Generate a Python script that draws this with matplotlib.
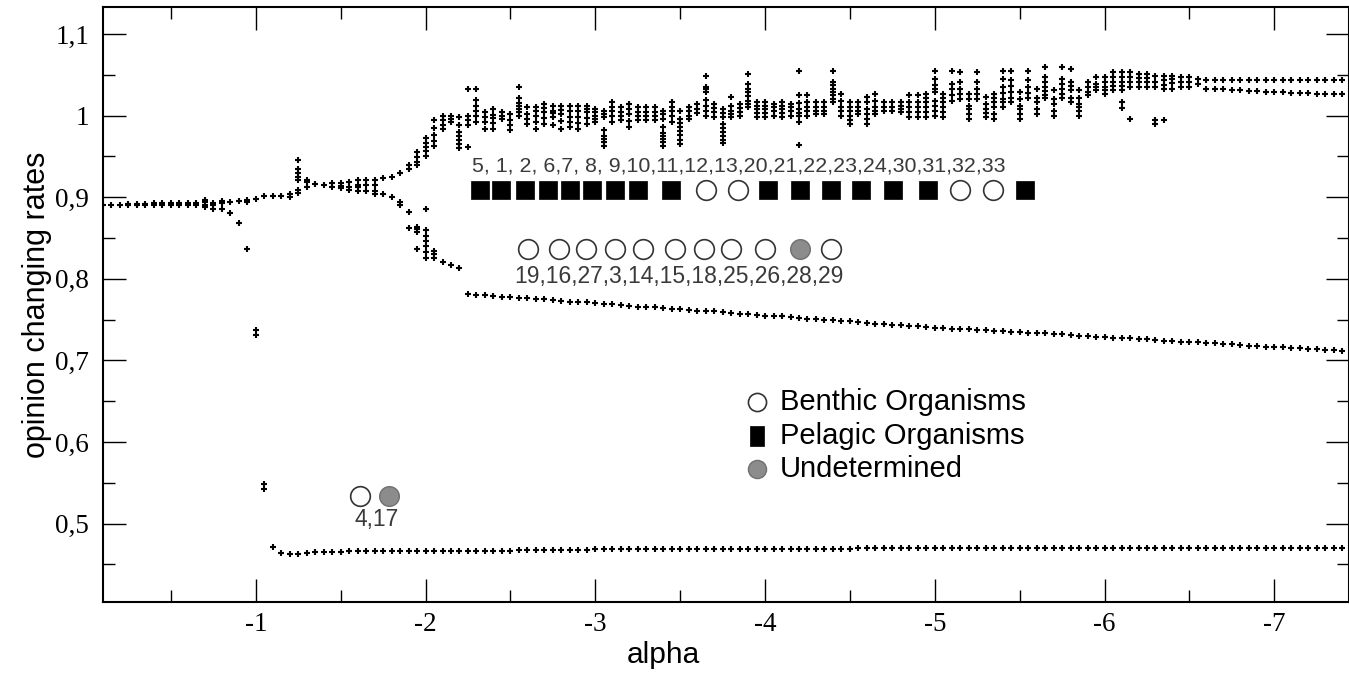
import numpy as np
import matplotlib
matplotlib.use("Agg")
import matplotlib.pyplot as plt
from matplotlib.ticker import FixedLocator, FuncFormatter

STEP = 0.05  # alpha step of the sweep

# single cluster before the split, one list of rates per alpha (-0.1 ... -1.7)
plateau_start = -0.1
plateau_rates = [
    [0.891], [0.891], [0.891], [0.891, 0.892], [0.891, 0.892],
    [0.891, 0.892], [0.891, 0.893], [0.891, 0.893], [0.891, 0.893], [0.891, 0.893],
    [0.891, 0.893], [0.891, 0.893], [0.888, 0.891, 0.894, 0.897], [0.886, 0.890, 0.893],
    [0.885, 0.893, 0.895], [0.880, 0.894], [0.868, 0.895], [0.836, 0.894, 0.896],
    [0.898], [0.902], [0.902], [0.901], [0.900, 0.904],
    [0.905, 0.909, 0.921, 0.925, 0.930, 0.934, 0.946],
    [0.913, 0.918, 0.921], [0.916], [0.915], [0.913, 0.917], [0.911, 0.914, 0.917],
    [0.909, 0.913, 0.918], [0.908, 0.912, 0.915, 0.921], [0.908, 0.915, 0.921],
    [0.915, 0.921],
]

# isolated points where the lowest species falls off
drop_alpha = [-1.0, -1.0, -1.05, -1.05]
drop_rates = [0.737, 0.731, 0.549, 0.543]

# lowest branch (-1.1 ... -7.4)
low_start = -1.1
low_rates = [
    0.471, 0.464, 0.463, 0.463, 0.464, 0.465, 0.465, 0.465, 0.465,
    0.466, 0.466, 0.466, 0.466, 0.466, 0.466, 0.466, 0.466, 0.466, 0.466,
    0.467, 0.467, 0.467, 0.467, 0.467, 0.467, 0.467, 0.467, 0.467, 0.467,
    0.468, 0.468, 0.468, 0.468, 0.468, 0.468, 0.468, 0.468, 0.468,
    0.469, 0.469, 0.469, 0.469, 0.469, 0.469, 0.469, 0.469, 0.469, 0.469,
    0.469, 0.469, 0.469, 0.469, 0.469, 0.469, 0.469, 0.469, 0.469, 0.469,
    0.469, 0.469, 0.469, 0.469, 0.469, 0.469, 0.469, 0.469, 0.469, 0.469, 0.469,
    0.470, 0.470, 0.470, 0.470, 0.470, 0.470, 0.470, 0.470, 0.470, 0.470,
    0.470, 0.470, 0.470, 0.470, 0.470, 0.470, 0.470, 0.470, 0.470, 0.470,
    0.470, 0.470, 0.470, 0.470, 0.470, 0.470, 0.470, 0.470, 0.470, 0.470,
    0.470, 0.470, 0.470, 0.470, 0.470, 0.470, 0.470, 0.470, 0.470, 0.470,
    0.470, 0.470, 0.470, 0.470, 0.470, 0.470, 0.470, 0.470, 0.470, 0.470,
    0.470, 0.470, 0.470, 0.470, 0.470, 0.470, 0.470, 0.470,
]

# middle branch, spread part (-1.7 ... -2.2)
split_start = -1.7
split_rates = [
    [0.904, 0.907], [0.904], [0.900], [0.890, 0.894], [0.862, 0.882],
    [0.837, 0.857, 0.861, 0.864], [0.825, 0.833, 0.840, 0.846, 0.852, 0.860, 0.885],
    [0.826, 0.830, 0.834], [0.821], [0.817], [0.813],
]

# middle branch, single line (-2.25 ... -7.4)
mid_start = -2.25
mid_rates = [
    0.781, 0.780, 0.780, 0.779, 0.778, 0.778, 0.777, 0.776, 0.775, 0.775,
    0.774, 0.773, 0.772, 0.772, 0.771, 0.770, 0.769, 0.769, 0.768, 0.767,
    0.766, 0.766, 0.765, 0.764, 0.763, 0.763, 0.762, 0.761, 0.760, 0.760,
    0.759, 0.758, 0.757, 0.757, 0.756, 0.755, 0.754, 0.754, 0.753, 0.752,
    0.751, 0.751, 0.750, 0.749, 0.748, 0.748, 0.747, 0.746, 0.745, 0.744,
    0.743, 0.743, 0.742, 0.742, 0.741, 0.740, 0.740, 0.739, 0.739, 0.738,
    0.737, 0.737, 0.736, 0.736, 0.735, 0.735, 0.734, 0.733, 0.733, 0.732,
    0.732, 0.731, 0.730, 0.730, 0.729, 0.729, 0.728, 0.727, 0.727, 0.726,
    0.726, 0.725, 0.724, 0.724, 0.723, 0.723, 0.722, 0.721, 0.721, 0.720,
    0.720, 0.719, 0.718, 0.718, 0.717, 0.717, 0.716, 0.715, 0.715, 0.714,
    0.714, 0.713, 0.713, 0.712,
]

# upper band (-1.75 ... -6.6)
band_start = -1.75
band_rates = [
    [0.923], [0.925], [0.930], [0.935, 0.940],                                   # -1.75 .. -1.9
    [0.939, 0.943, 0.949, 0.955], [0.951, 0.956, 0.961, 0.966, 0.972],            # -1.95, -2.0
    [0.963, 0.969, 0.976, 0.985, 0.994], [0.984, 0.989, 0.994, 0.999],            # -2.05, -2.1
    [0.992, 0.996, 1.000], [0.960, 0.965, 0.970, 0.975, 0.980, 0.988, 0.998],     # -2.15, -2.2
    [0.961, 0.988, 0.994, 1.000, 1.033], [0.992, 0.999, 1.005, 1.012, 1.019, 1.032],
    [0.984, 0.992, 0.998, 1.004], [0.984, 0.991, 0.997, 1.001, 1.008],            # -2.35, -2.4
    [0.996, 1.000, 1.004], [0.982, 0.989, 0.994, 1.002],                          # -2.45, -2.5
    [1.000, 1.004, 1.008, 1.012, 1.015, 1.022, 1.035], [0.990, 0.996, 1.002, 1.010],
    [0.984, 0.992, 1.000, 1.005, 1.010], [0.990, 0.997, 1.004, 1.009, 1.014],     # -2.65, -2.7
    [0.988, 0.998, 1.003, 1.006, 1.012], [0.984, 0.993, 1.002, 1.007, 1.012],     # -2.75, -2.8
    [0.986, 0.992, 0.998, 1.005, 1.012], [0.984, 0.991, 0.998, 1.005, 1.012],     # -2.85, -2.9
    [0.990, 0.997, 1.004, 1.008, 1.012], [0.992, 0.996, 1.000, 1.004, 1.008],     # -2.95, -3.0
    [0.963, 0.967, 0.971, 0.975, 0.982, 0.998, 1.002, 1.006],                     # -3.05
    [0.992, 0.999, 1.005, 1.011, 1.016], [0.994, 1.000, 1.004, 1.010],            # -3.1, -3.15
    [0.986, 0.993, 1.002, 1.008, 1.014], [0.994, 1.000, 1.004, 1.010],            # -3.2, -3.25
    [0.994, 1.000, 1.004, 1.010], [0.994, 1.000, 1.004, 1.010],                   # -3.3, -3.35
    [0.963, 0.967, 0.971, 0.975, 0.979, 0.986, 0.996, 1.002, 1.006],              # -3.4
    [0.992, 0.999, 1.005, 1.011, 1.016],                                          # -3.45
    [0.965, 0.970, 0.976, 0.981, 0.986, 0.991, 0.996, 1.006],                     # -3.5
    [0.996, 1.000, 1.005, 1.010], [1.003, 1.008, 1.014],                          # -3.55, -3.6
    [1.000, 1.006, 1.012, 1.019, 1.029, 1.032, 1.035, 1.049],                     # -3.65
    [0.998, 1.004, 1.009, 1.014],                                                 # -3.7
    [0.966, 0.970, 0.975, 0.980, 0.985, 0.990, 0.998, 1.003, 1.008],              # -3.75
    [0.998, 1.002, 1.006, 1.012, 1.023], [1.000, 1.004, 1.009, 1.014],            # -3.8, -3.85
    [1.010, 1.014, 1.018, 1.024, 1.029, 1.033, 1.039, 1.051],                     # -3.9
    [0.998, 1.003, 1.008, 1.012, 1.016], [0.998, 1.003, 1.008, 1.012, 1.016],     # -3.95, -4.0
    [1.000, 1.005, 1.010, 1.014], [0.998, 1.003, 1.008, 1.012, 1.016],            # -4.05, -4.1
    [1.000, 1.005, 1.010, 1.014],                                                 # -4.15
    [0.964, 0.992, 1.000, 1.003, 1.008, 1.015, 1.025, 1.055],                     # -4.2
    [1.000, 1.005, 1.010, 1.016, 1.025], [1.002, 1.006, 1.010, 1.016],            # -4.25, -4.3
    [1.002, 1.006, 1.010, 1.016],                                                 # -4.35
    [1.016, 1.020, 1.025, 1.029, 1.033, 1.037, 1.041, 1.055],                     # -4.4
    [1.000, 1.005, 1.010, 1.018, 1.027], [0.990, 0.995, 1.000, 1.006, 1.011, 1.016],
    [1.002, 1.006, 1.011, 1.016], [0.990, 0.996, 1.002, 1.008, 1.016, 1.023],     # -4.55, -4.6
    [1.002, 1.006, 1.010, 1.018, 1.027], [1.006, 1.010, 1.016],                   # -4.65, -4.7
    [1.006, 1.010, 1.016], [1.004, 1.008, 1.012, 1.016],                          # -4.75, -4.8
    [0.998, 1.004, 1.010, 1.016, 1.025], [0.998, 1.004, 1.010, 1.016, 1.025],     # -4.85, -4.9
    [0.998, 1.004, 1.010, 1.016, 1.022, 1.027],                                   # -4.95
    [1.000, 1.006, 1.012, 1.018, 1.029, 1.033, 1.037, 1.045, 1.055],              # -5.0
    [0.998, 1.004, 1.010, 1.016, 1.022, 1.027],                                   # -5.05
    [1.018, 1.025, 1.033, 1.039, 1.055], [1.020, 1.027, 1.033, 1.041, 1.053],     # -5.1, -5.15
    [0.996, 1.002, 1.008, 1.012, 1.020, 1.027], [1.020, 1.027, 1.033, 1.041, 1.053],
    [0.998, 1.003, 1.008, 1.014, 1.023], [0.996, 1.002, 1.010, 1.016, 1.021, 1.027],
    [1.010, 1.016, 1.020, 1.028, 1.035, 1.045, 1.055],                            # -5.4
    [1.016, 1.021, 1.029, 1.036, 1.043, 1.055],                                   # -5.45
    [0.996, 1.002, 1.008, 1.012, 1.020, 1.029], [1.022, 1.028, 1.035, 1.043, 1.055],
    [1.002, 1.008, 1.016, 1.022, 1.033],                                          # -5.6
    [1.021, 1.025, 1.030, 1.035, 1.041, 1.047, 1.059],                            # -5.65
    [1.000, 1.006, 1.014, 1.020, 1.031],                                          # -5.7
    [1.022, 1.027, 1.033, 1.039, 1.045, 1.059], [1.016, 1.022, 1.031, 1.036, 1.041, 1.057],
    [1.000, 1.005, 1.010, 1.014, 1.022, 1.031],                                   # -5.85
    [1.025, 1.029, 1.035, 1.041], [1.031, 1.035, 1.039, 1.047],                   # -5.9, -5.95
    [1.027, 1.031, 1.035, 1.041, 1.047], [1.031, 1.036, 1.041, 1.047, 1.053],     # -6.0, -6.05
    [1.009, 1.016, 1.031, 1.036, 1.041, 1.047, 1.053],                            # -6.1
    [0.996, 1.035, 1.041, 1.047, 1.053], [1.035, 1.041, 1.046, 1.051],            # -6.15, -6.2
    [1.035, 1.041, 1.046, 1.051], [0.990, 0.994, 1.035, 1.041, 1.049],            # -6.25, -6.3
    [0.994, 1.033, 1.038, 1.043, 1.049], [1.033, 1.040, 1.045, 1.049],            # -6.35, -6.4
    [1.035, 1.041, 1.047], [1.035, 1.041, 1.047],                                 # -6.45, -6.5
    [1.039, 1.045], [1.033, 1.043],                                               # -6.55, -6.6
]

# two upper lines at the end (-6.65 ... -7.4)
tail_start = -6.65
tail_upper = [1.043, 1.043, 1.043, 1.044, 1.044, 1.044, 1.044, 1.044,
              1.044, 1.044, 1.044, 1.044, 1.044, 1.044, 1.044, 1.044]
tail_lower = [1.033, 1.032, 1.031, 1.031, 1.030, 1.030, 1.029, 1.029,
              1.029, 1.028, 1.028, 1.028, 1.027, 1.027, 1.027, 1.027]

# species groups (B = benthic, P = pelagic, U = undetermined)
top_alpha = [-2.319, -2.447, -2.584, -2.720, -2.849, -2.983, -3.114, -3.250, -3.448, -3.654,
             -3.840, -4.017, -4.204, -4.390, -4.567, -4.751, -4.958, -5.146, -5.340, -5.533]
top_kind = list("PPPPPPPPPBBPPPPPPBBP")
top_rate = 0.9085
top_text = "5, 1, 2, 6,7, 8, 9,10,11,12,13,20,21,22,23,24,30,31,32,33"

mid_alpha = [-2.604, -2.786, -2.948, -3.114, -3.281, -3.467, -3.638, -3.802, -3.998, -4.204, -4.390]
mid_kind = list("BBBBBBBBBUB")
mid_rate = 0.837
mid_text = "19,16,27,3,14,15,18,25,26,28,29"

low_alpha = [-1.612, -1.783]
low_kind = list("BU")
low_rate = 0.534
low_text = "4,17"

legend_labels = ["Benthic Organisms", "Pelagic Organisms", "Undetermined"]


def columns(start, cols):
    xs, ys = [], []
    for i, col in enumerate(cols):
        for v in col:
            xs.append(start - STEP * i)
            ys.append(v)
    return xs, ys


plt.rcParams["axes.unicode_minus"] = False
SANS = "Liberation Sans"
SERIF = "Liberation Serif"

fig = plt.figure(figsize=(13.49, 6.80), dpi=100)
ax = fig.add_axes([103 / 1349, 78 / 680, 1246 / 1349, 595 / 680])

pts = [
    columns(plateau_start, plateau_rates),
    (drop_alpha, drop_rates),
    columns(low_start, [[v] for v in low_rates]),
    columns(split_start, split_rates),
    columns(mid_start, [[v] for v in mid_rates]),
    columns(band_start, band_rates),
    columns(tail_start, [[v] for v in tail_upper]),
    columns(tail_start, [[v] for v in tail_lower]),
]
for xs, ys in pts:
    ax.plot(xs, ys, linestyle="none", marker="+", ms=4.8, mew=1.5, color="black", zorder=2)

TALL_SQUARE = [(-0.75, -1), (0.75, -1), (0.75, 1), (-0.75, 1), (-0.75, -1)]
STYLE = {
    "B": dict(marker="o", s=200, facecolor="white", edgecolor="#333333", linewidths=1.2),
    "P": dict(marker="s", s=150, facecolor="black", edgecolor="black", linewidths=0.5),
    "U": dict(marker="o", s=200, facecolor="#8c8c8c", edgecolor="#707070", linewidths=1.0),
}


def draw_group(alphas, kinds, rate):
    for a, k in zip(alphas, kinds):
        ax.scatter([a], [rate], zorder=3, **STYLE[k])


draw_group(top_alpha, top_kind, top_rate)
draw_group(mid_alpha, mid_kind, mid_rate)
draw_group(low_alpha, low_kind, low_rate)

label_kw = dict(family=SANS, color="#3a3a3a", va="center")
ax.text(-2.272, 0.938, top_text, ha="left", fontsize=15.4, **label_kw)
ax.text(-2.525, 0.803, mid_text, ha="left", fontsize=16.5, **label_kw)
ax.text(-1.713, 0.5045, low_text, ha="center", fontsize=16.5, **label_kw)

# legend drawn in axes fraction
for i, (lab, k) in enumerate(zip(legend_labels, ["B", "P", "U"])):
    yy = 0.336 - i * 0.0565
    st = dict(STYLE[k])
    if k == "P":
        st.update(marker=TALL_SQUARE, s=190)
    else:
        st["s"] = 170
    ax.scatter([0.525], [yy], transform=ax.transAxes, clip_on=False, zorder=3, **st)
    ax.text(0.543, yy, lab, transform=ax.transAxes, family=SANS, fontsize=21,
            va="center", ha="left", color="black")

ax.set_xlim(-0.1, -7.44)
ax.set_ylim(0.404, 1.133)
ax.xaxis.set_major_locator(FixedLocator([-1, -2, -3, -4, -5, -6, -7]))
ax.xaxis.set_minor_locator(FixedLocator([-0.5, -1.5, -2.5, -3.5, -4.5, -5.5, -6.5]))
ax.yaxis.set_major_locator(FixedLocator([0.5, 0.6, 0.7, 0.8, 0.9, 1.0, 1.1]))
ax.yaxis.set_minor_locator(FixedLocator([0.45, 0.55, 0.65, 0.75, 0.85, 0.95, 1.05]))
ax.xaxis.set_major_formatter(FuncFormatter(lambda v, p: f"{int(round(v))}"))
ax.yaxis.set_major_formatter(FuncFormatter(lambda v, p: f"{round(v, 1):g}".replace(".", ",")))

ax.tick_params(which="both", direction="in", top=True, right=True, width=1.0, color="black")
ax.tick_params(which="major", length=16.5)
ax.tick_params(which="minor", length=8.5)
ax.tick_params(axis="x", which="major", pad=7)
ax.tick_params(axis="y", which="major", pad=10)
for lab in ax.get_xticklabels() + ax.get_yticklabels():
    lab.set_family(SERIF)
    lab.set_fontsize(19.5)
for sp in ax.spines.values():
    sp.set_linewidth(1.5)

fig.text(663 / 1349, 1 - 655 / 680, "alpha", family=SANS, fontsize=21.5, ha="center", va="center")
fig.text(37 / 1349, 1 - 305 / 680, "opinion changing rates", family=SANS, fontsize=22,
         ha="center", va="center", rotation=90)

fig.savefig("out.png", dpi=100)
